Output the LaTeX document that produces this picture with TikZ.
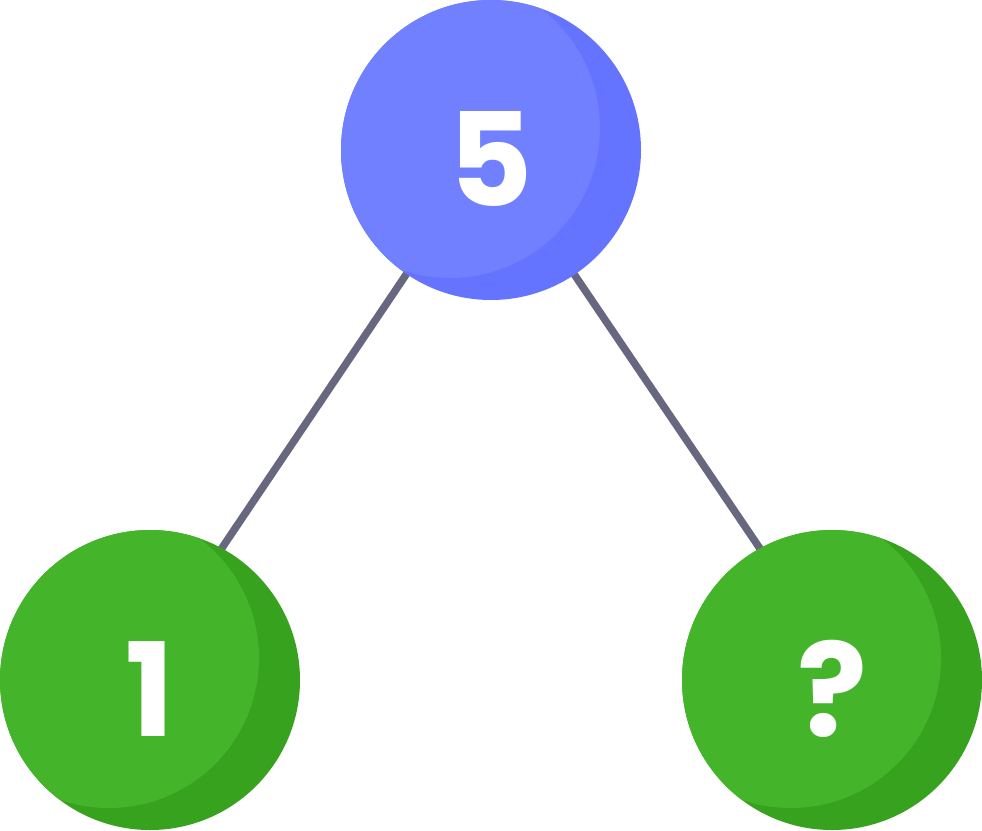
\documentclass[tikz,border=0pt]{standalone}
\usepackage{fontspec}
\setmainfont{Poppins}
\definecolor{bluelight}{HTML}{7080FF}
\definecolor{bluedark}{HTML}{6474FF}
\definecolor{greenlight}{HTML}{44B52B}
\definecolor{greendark}{HTML}{36A21E}
\definecolor{linkcol}{HTML}{67687F}
\tikzset{
  ball/.style 2 args={circle, minimum size=300pt, inner sep=0pt, fill=#2,
    text=white, font=\fontsize{130}{130}\selectfont\bfseries,
    text height=112pt, text depth=0pt,
    path picture={\fill[#1] ([xshift=-41pt,yshift=22pt]path picture bounding box.center) circle (150pt);}},
  link/.style={draw=linkcol, line width=7.5pt}
}
\begin{document}
\begin{tikzpicture}[x=1pt,y=-1pt]
\useasboundingbox (0,0) rectangle (982,830);
\coordinate (lend) at (133,680);
\coordinate (rend) at (849,680);
\coordinate (topc) at (490,150);
\draw[link] (topc) -- (lend);
\draw[link] (topc) -- (rend);
\node[ball={bluelight}{bluedark}] (top) at (491,150) {5};
\node[ball={greenlight}{greendark}] (left) at (150,680) {1};
\node[ball={greenlight}{greendark}] (right) at (832,680) {?};
\end{tikzpicture}
\end{document}
